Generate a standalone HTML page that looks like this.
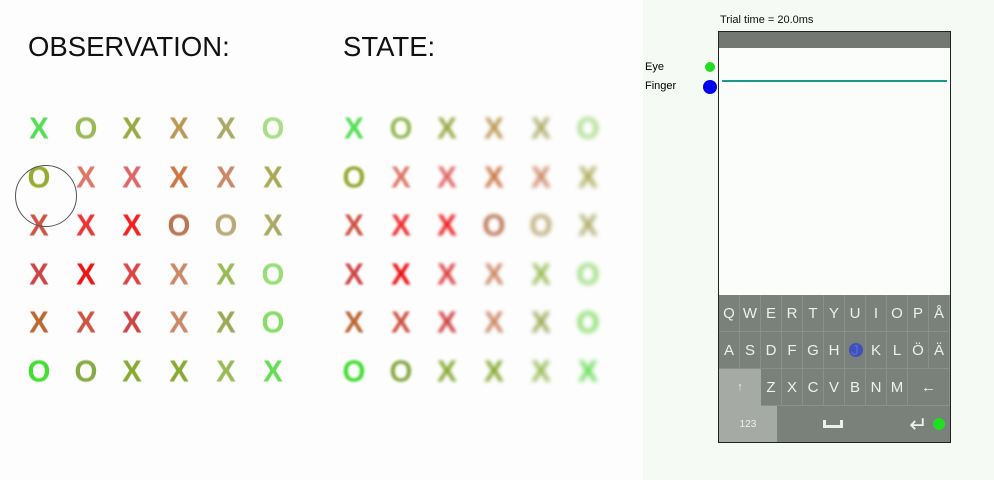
<!DOCTYPE html>
<html><head><meta charset="utf-8"><style>
body{margin:0;width:994px;height:480px;background:#fdfdfe;font-family:"Liberation Sans",sans-serif;position:relative;overflow:hidden}
.t{position:absolute;font-size:27.5px;color:#111}
.g{position:absolute;font-size:31px;font-weight:bold;transform:translate(-50%,-50%) scaleX(0.95);line-height:1}
.right{position:absolute;left:643px;top:0;width:351px;height:480px;background:#f6faf5}
.k{position:absolute;color:#eef0ee;font-size:15px;text-align:center;line-height:37px;box-sizing:border-box;border-right:1px solid #8a908a;border-bottom:1px solid #8a908a}
.nb{border:none}
</style></head><body>
<div class="t" style="left:28px;top:31px">OBSERVATION:</div>
<div class="t" style="left:343px;top:31px">STATE:</div>
<div id="grid"></div>
<div style="position:absolute;left:15px;top:165px;width:60px;height:60px;border:1.5px solid #555;border-radius:50%"></div>
<div class="right"></div>
<div style="position:absolute;left:720px;top:14px;font-size:11px;color:#111">Trial time = 20.0ms</div>
<div style="position:absolute;left:645px;top:61px;font-size:11px">Eye</div>
<div style="position:absolute;left:645px;top:80px;font-size:11px">Finger</div>
<div style="position:absolute;left:705px;top:62px;width:10px;height:10px;border-radius:50%;background:#22dd22"></div>
<div style="position:absolute;left:703px;top:80px;width:14px;height:14px;border-radius:50%;background:#0000ee"></div>
<div style="position:absolute;left:718px;top:31px;width:231px;height:410px;border:1px solid #222;background:#fbfdfb">
 <div style="position:absolute;left:0;top:0;width:231px;height:16px;background:#737872"></div>
 <div style="position:absolute;left:3px;top:48px;width:225px;height:2px;background:#1a9a8a"></div>
 <div id="kb" style="position:absolute;left:0;top:263px;width:231px;height:147px;background:#7a807a"></div>
</div>
<script>
const obs=[["X","#5d5"],["O","#9b5"],["X","#9a4"],["X","#b95"],["X","#aa6"],["O","#ad8"],
["O","#9a3"],["X","#d76"],["X","#d66"],["X","#c74"],["X","#c86"],["X","#aa5"],
["X","#c54"],["X","#e33"],["X","#e22"],["O","#b75"],["O","#ba7"],["X","#aa6"],
["X","#c44"],["X","#e11"],["X","#d44"],["X","#c86"],["X","#9b5"],["O","#9d7"],
["X","#b63"],["X","#c54"],["X","#c44"],["X","#c86"],["X","#9a5"],["O","#8d6"],
["O","#4d3"],["O","#8a4"],["X","#8a3"],["X","#8a3"],["X","#9b5"],["X","#6d5"]];
const grid=document.getElementById('grid');
[[39,0],[354,1]].forEach(([x0,bl],gi)=>{
 obs.forEach(([c,col],i)=>{
  const d=document.createElement('div');d.className='g';
  
  
  d.textContent=c;d.style.color=col;
  d.style.left=(x0+(i%6)*46.7)+'px';d.style.top=(128+Math.floor(i/6)*48.6)+'px';
  d.style.filter='blur('+(bl+(gi? (i%6)*0.3:0.4))+'px)';
  grid.appendChild(d);
 });
});
const kb=document.getElementById('kb');
function key(t,x,y,w,h,bg,fs,nb){const d=document.createElement('div');d.className='k'+(nb?' nb':'');
 
 
 d.textContent=t;d.style.left=x+'px';d.style.top=y+'px';d.style.width=w+'px';d.style.height=h+'px';
 if(bg)d.style.background=bg;if(fs)d.style.fontSize=fs+'px';kb.appendChild(d);return d;}
const w=21;
"QWERTYUIOPÅ".split('').forEach((c,i)=>key(c,i*w,0,w,37));
"ASDFGHJKLÖÄ".split('').forEach((c,i)=>key(c,i*w,37,w,37));
key("↑",0,74,42,37,"#a6aaa5",11,1);
"ZXCVBNM".split('').forEach((c,i)=>key(c,42+i*w,74,w,37));
key("←",189,74,42,37);
key("123",0,111,58,36,"#a6aaa5",10,1);
const sp=key("",58,111,110,36,null,20,1);
const br=document.createElement('div');


br.style.cssText='position:absolute;left:46px;top:14px;width:14px;height:5px;border:3px solid #eef0ee;border-top:none';
sp.appendChild(br);
key("↵",168,111,63,36,null,22,1);
const j=document.createElement('div');


j.style.cssText='position:absolute;left:130px;top:48px;width:14px;height:14px;border-radius:50%;background:#3344cc;opacity:.8';kb.appendChild(j);
const e=document.createElement('div');


e.style.cssText='position:absolute;left:214px;top:123px;width:12px;height:12px;border-radius:50%;background:#22dd22';kb.appendChild(e);
</script>
</body></html>
